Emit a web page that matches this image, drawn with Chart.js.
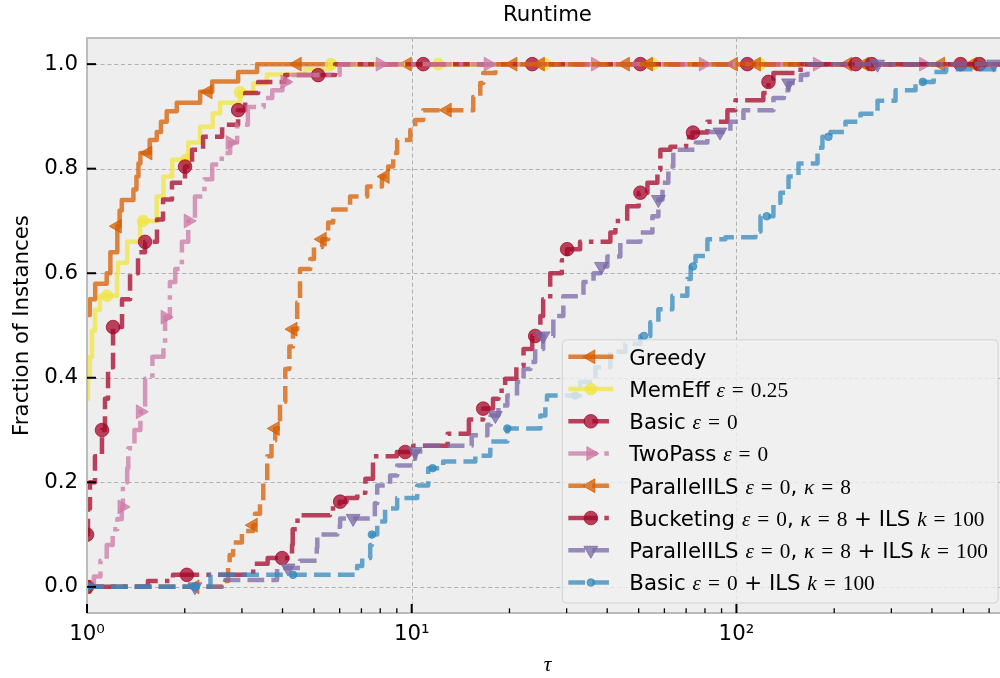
<!DOCTYPE html>
<html>
<head>
<meta charset="utf-8">
<script src="https://cdn.jsdelivr.net/npm/chart.js@4.4.1/dist/chart.umd.min.js"></script>
<style>
html,body{margin:0;padding:0;background:#ffffff;}
#wrap{width:1000px;height:678px;position:relative;}
</style>
</head>
<body>
<div id="wrap"><canvas id="c" width="1000" height="678"></canvas></div>
<script>
// ---------------- axis limits / ticks ----------------
const TAU_MIN = 1;
const TAU_MAX = 686;
const Y_MIN = -0.05;
const Y_MAX = 1.05;
const yTickValues = [0, 0.2, 0.4, 0.6, 0.8, 1.0];
const xMajorTicks = [1, 10, 100];

// ---------------- data (performance profiles) ----------------
const greedyTau  = [1.0, 1.02, 1.06, 1.15, 1.18, 1.24, 1.26, 1.28, 1.39, 1.42, 1.44, 1.46, 1.56, 1.64, 1.69, 1.76, 1.89, 2.23, 2.43, 2.92, 3.34, 686];
const greedyFrac = [0.52, 0.55, 0.58, 0.60, 0.64, 0.69, 0.72, 0.74, 0.76, 0.785, 0.81, 0.83, 0.855, 0.87, 0.89, 0.91, 0.926, 0.947, 0.967, 0.985, 1.0, 1.0];
const greedyMarks = [1.24, 1.54, 2.36, 4.44, 9.69, 20.5, 45.5, 97.9, 220, 425];

const memEffTau  = [1.0, 1.007, 1.02, 1.036, 1.058, 1.097, 1.237, 1.246, 1.33, 1.457, 1.64, 1.72, 1.83, 2.05, 2.23, 2.44, 2.57, 2.96, 3.25, 3.58, 4.7, 5.6, 686];
const memEffFrac = [0.36, 0.40, 0.44, 0.49, 0.53, 0.557, 0.60, 0.62, 0.66, 0.70, 0.747, 0.785, 0.817, 0.85, 0.88, 0.906, 0.926, 0.946, 0.963, 0.98, 0.99, 1.0, 1.0];
const memEffMarks = [1.152, 1.488, 2.02, 2.96, 5.65, 12.07, 25.8, 55.5, 118.6, 255, 545];

const basicTau  = [1.0, 1.007, 1.021, 1.058, 1.112, 1.136, 1.161, 1.203, 1.282, 1.357, 1.436, 1.509, 1.643, 1.715, 1.827, 2.004, 2.107, 2.278, 2.607, 2.92, 3.07, 3.365, 4.075, 5.81, 686];
const basicFrac = [0.10, 0.15, 0.20, 0.25, 0.30, 0.36, 0.42, 0.497, 0.55, 0.60, 0.64, 0.66, 0.703, 0.741, 0.773, 0.804, 0.836, 0.861, 0.884, 0.912, 0.945, 0.966, 0.979, 1.0, 1.0];
const basicMarks = [1.0, 1.112, 1.203, 1.509, 2.004, 2.92, 5.15, 10.85, 23.5, 50.6, 108, 233, 490];

const twoPassTau  = [1.0, 1.05, 1.10, 1.15, 1.2, 1.24, 1.28, 1.29, 1.33, 1.34, 1.40, 1.46, 1.51, 1.59, 1.72, 1.74, 1.80, 1.87, 1.96, 2.05, 2.15, 2.3, 2.43, 2.6, 2.76, 2.9, 3.13, 3.5, 3.72, 4.0, 4.28, 6.0, 686];
const twoPassFrac = [0.0, 0.02, 0.05, 0.08, 0.11, 0.13, 0.153, 0.20, 0.227, 0.265, 0.30, 0.335, 0.398, 0.44, 0.46, 0.516, 0.583, 0.608, 0.66, 0.70, 0.747, 0.78, 0.808, 0.83, 0.85, 0.884, 0.918, 0.935, 0.95, 0.966, 0.979, 1.0, 1.0];
const twoPassMarks = [1.0, 1.282, 1.46, 1.74, 2.05, 2.76, 4.07, 8.0, 17.2, 36.8, 79.1, 177.6, 377];

const parIlsTau  = [1.0, 2.66, 2.72, 2.75, 2.82, 3.0, 3.25, 3.29, 3.41, 3.49, 3.59, 3.70, 3.80, 3.93, 4.08, 4.2, 4.31, 4.44, 4.53, 4.87, 5.0, 5.3, 5.53, 5.73, 6.46, 7.29, 8.1, 8.46, 8.77, 9.02, 9.9, 10.25, 10.85, 15.47, 16.26, 16.61, 18.1, 686];
const parIlsFrac = [0.0, 0.011, 0.04, 0.061, 0.085, 0.107, 0.118, 0.14, 0.163, 0.20, 0.25, 0.28, 0.303, 0.354, 0.417, 0.46, 0.493, 0.544, 0.608, 0.627, 0.65, 0.665, 0.697, 0.722, 0.747, 0.766, 0.785, 0.804, 0.83, 0.855, 0.874, 0.893, 0.912, 0.937, 0.964, 0.983, 1.0, 1.0];
const parIlsMarks = [1.0, 2.15, 3.25, 3.80, 4.31, 5.30, 8.28, 12.86, 24.9, 53.6, 115.2, 248, 534];

const bucketTau  = [1.0, 1.54, 1.84, 3.25, 3.6, 4.28, 4.3, 4.45, 5.6, 6.0, 6.3, 6.8, 7.2, 7.6, 9.0, 10.1, 12.9, 15.0, 16.6, 17.8, 18.5, 19.4, 21.0, 22.1, 23.5, 24.9, 25.4, 26.7, 29.0, 30.1, 33.0, 40.9, 42.4, 46.1, 50.0, 53.2, 57.1, 58.3, 62.6, 70, 73.2, 81.4, 93.8, 99.3, 121, 125.5, 130, 157.6, 686];
const bucketFrac = [0.0, 0.011, 0.023, 0.044, 0.055, 0.08, 0.11, 0.137, 0.15, 0.163, 0.17, 0.18, 0.207, 0.25, 0.258, 0.27, 0.293, 0.32, 0.341, 0.36, 0.375, 0.398, 0.423, 0.455, 0.48, 0.518, 0.55, 0.60, 0.625, 0.646, 0.66, 0.678, 0.70, 0.728, 0.754, 0.773, 0.798, 0.836, 0.842, 0.86, 0.869, 0.89, 0.912, 0.931, 0.945, 0.966, 0.983, 1.0, 1.0];
const bucketMarks = [1.0, 2.03, 3.99, 6.02, 9.55, 16.6, 24.0, 30.1, 50.6, 73.5, 125.5, 261, 561];

const parIlsLsTau  = [1.0, 2.6, 3.85, 4.53, 5.1, 5.12, 5.9, 6.02, 7.7, 7.83, 8.58, 9.02, 9.9, 10.25, 11.0, 15.3, 17.1, 17.5, 18.5, 19.7, 21.1, 22.1, 23.2, 24.0, 25.4, 27.3, 29.3, 33.8, 36.3, 38.1, 40.05, 43.9, 50.6, 55.1, 57.5, 59.2, 61.7, 63.9, 75, 81.4, 95.8, 105.1, 130, 140, 144.7, 158, 165.5, 686];
const parIlsLsFrac = [0.0, 0.013, 0.036, 0.05, 0.075, 0.1, 0.115, 0.131, 0.16, 0.194, 0.213, 0.232, 0.245, 0.259, 0.27, 0.29, 0.31, 0.328, 0.347, 0.366, 0.392, 0.417, 0.43, 0.455, 0.48, 0.518, 0.556, 0.583, 0.60, 0.613, 0.632, 0.66, 0.678, 0.709, 0.741, 0.773, 0.804, 0.836, 0.85, 0.87, 0.89, 0.912, 0.935, 0.95, 0.964, 0.979, 1.0, 1.0];
const parIlsLsMarks = [1.0, 2.15, 4.16, 6.60, 10.25, 18.1, 25.4, 38.4, 57.5, 89, 144.7, 272, 620];

const basicLsTau  = [1.0, 2.4, 6.79, 7.04, 7.45, 7.54, 7.83, 8.28, 9.02, 10.4, 11.24, 12.5, 15.7, 17.46, 19.7, 24.9, 25.8, 26.1, 33.0, 36.8, 40.9, 45.5, 50.6, 54.3, 57.5, 63.5, 70.6, 72.3, 74.8, 81.4, 92.5, 114.4, 118.6, 130, 136.6, 144.7, 155.3, 177.7, 184, 195, 216.7, 241, 272, 309, 356, 405, 441, 686];
const basicLsFrac = [0.0, 0.023, 0.04, 0.055, 0.08, 0.10, 0.125, 0.15, 0.17, 0.194, 0.227, 0.24, 0.251, 0.278, 0.303, 0.328, 0.354, 0.366, 0.392, 0.42, 0.45, 0.465, 0.48, 0.506, 0.531, 0.557, 0.589, 0.613, 0.633, 0.665, 0.669, 0.68, 0.709, 0.735, 0.754, 0.785, 0.81, 0.84, 0.861, 0.87, 0.89, 0.905, 0.93, 0.95, 0.966, 0.985, 0.99, 0.99];
const basicLsMarks = [1.0, 2.15, 4.31, 7.54, 11.6, 19.7, 31.9, 51.9, 73.5, 124, 192, 375];

// ---------------- styles ----------------
const DASHES = {solid: [], dashed: [16.7, 7.2], dashdot: [28.8, 7.2, 4.5, 7.2]};
const LINE_W = 4.5;
const ALPHA = 0.75;
const SANS = "'DejaVu Sans', sans-serif";
const MATH = "'Liberation Serif', 'DejaVu Serif', serif";
const FS = 21.3;
const AXES_RIGHT = 1008;   // the axes box continues a little past the right edge of the picture

const SERIES = [
  {tau: greedyTau, frac: greedyFrac, marks: greedyMarks, color: '#D55E00', dash: 'solid', marker: 'left', r: 8,
   label: [['Greedy','s']]},
  {tau: memEffTau, frac: memEffFrac, marks: memEffMarks, color: '#F0E442', dash: 'solid', marker: 'circle', r: 5.8,
   label: [['MemEff ','s'],['ε','mi'],['=','eq'],['0.25','mr']]},
  {tau: basicTau, frac: basicFrac, marks: basicMarks, color: '#A60628', dash: 'dashed', marker: 'circle', r: 6.8,
   label: [['Basic ','s'],['ε','mi'],['=','eq'],['0','mr']]},
  {tau: twoPassTau, frac: twoPassFrac, marks: twoPassMarks, color: '#CC79A7', dash: 'dashdot', marker: 'right', r: 8,
   label: [['TwoPass ','s'],['ε','mi'],['=','eq'],['0','mr']]},
  {tau: parIlsTau, frac: parIlsFrac, marks: parIlsMarks, color: '#D55E00', dash: 'dashed', marker: 'left', r: 8,
   label: [['ParallelILS ','s'],['ε','mi'],['=','eq'],['0','mr'],[', ','s'],['κ','mi'],['=','eq'],['8','mr']]},
  {tau: bucketTau, frac: bucketFrac, marks: bucketMarks, color: '#A60628', dash: 'dashdot', marker: 'circle', r: 6.8,
   label: [['Bucketing ','s'],['ε','mi'],['=','eq'],['0','mr'],[', ','s'],['κ','mi'],['=','eq'],['8','mr'],[' + ILS ','s'],['k','mi'],['=','eq'],['100','mr']]},
  {tau: parIlsLsTau, frac: parIlsLsFrac, marks: parIlsLsMarks, color: '#7A68A6', dash: 'dashed', marker: 'down', r: 8,
   label: [['ParallelILS ','s'],['ε','mi'],['=','eq'],['0','mr'],[', ','s'],['κ','mi'],['=','eq'],['8','mr'],[' + ILS ','s'],['k','mi'],['=','eq'],['100','mr']]},
  {tau: basicLsTau, frac: basicLsFrac, marks: basicLsMarks, color: '#348ABD', dash: 'dashed', marker: 'circle', r: 3.8,
   label: [['Basic ','s'],['ε','mi'],['=','eq'],['0','mr'],[' + ILS ','s'],['k','mi'],['=','eq'],['100','mr']]}
];

const ROT = {left: 270, right: 90, down: 180, up: 0};

function rgba(hex, a) {
  const n = parseInt(hex.slice(1), 16);
  return 'rgba(' + ((n >> 16) & 255) + ',' + ((n >> 8) & 255) + ',' + (n & 255) + ',' + a + ')';
}
function stepAt(tau, frac, t) {
  let v = frac[0];
  for (let i = 0; i < tau.length; i++) if (tau[i] <= t * (1 + 1e-9)) v = frac[i];
  return v;
}

// ---------------- datasets ----------------
const datasets = [];
SERIES.forEach((s, i) => {
  const col = rgba(s.color, ALPHA);
  datasets.push({
    data: s.tau.map((t, k) => ({x: t, y: s.frac[k]})),
    borderColor: col, backgroundColor: col, borderWidth: LINE_W,
    borderDash: DASHES[s.dash], borderCapStyle: 'butt', borderJoinStyle: 'round',
    stepped: true, pointRadius: 0, pointHitRadius: 0, fill: false, clip: 0,
    order: 100 - 2 * i
  });
  datasets.push({
    data: s.marks.map(t => ({x: t, y: stepAt(s.tau, s.frac, t)})),
    showLine: false,
    pointStyle: s.marker === 'circle' ? 'circle' : 'triangle',
    pointRotation: s.marker === 'circle' ? 0 : ROT[s.marker],
    pointRadius: s.r, pointHoverRadius: s.r,
    pointBackgroundColor: col, pointBorderColor: col, pointBorderWidth: 1,
    clip: 0, order: 99 - 2 * i
  });
});

// ---------------- frame / grid / ticks plugin ----------------
const framePlugin = {
  id: 'mplFrame',
  afterLayout(chart) {
    const a = chart.chartArea;
    a.right = AXES_RIGHT;
    a.width = AXES_RIGHT - a.left;
    const x = chart.scales.x;
    x.right = AXES_RIGHT;
    x.width = AXES_RIGHT - x.left;
    x.configure();
    if (chart.titleBlock) {
      chart.titleBlock.left = a.left;
      chart.titleBlock.right = AXES_RIGHT;
      chart.titleBlock.width = AXES_RIGHT - a.left;
    }
  },
  beforeDraw(chart) {
    const {ctx, chartArea: a} = chart;
    ctx.save();
    ctx.fillStyle = '#ffffff';
    ctx.fillRect(0, 0, chart.width, chart.height);
    ctx.fillStyle = '#eeeeee';
    ctx.fillRect(a.left, a.top, a.right - a.left, a.bottom - a.top);
    ctx.restore();
  },
  beforeDatasetsDraw(chart) {
    const {ctx, chartArea: a, scales: {x, y}} = chart;
    ctx.save();
    ctx.strokeStyle = '#b2b2b2';
    ctx.lineWidth = 1;
    ctx.setLineDash([4, 2.8]);
    yTickValues.forEach(v => {
      const py = Math.round(y.getPixelForValue(v)) + 0.5;
      ctx.beginPath(); ctx.moveTo(a.left, py); ctx.lineTo(a.right, py); ctx.stroke();
    });
    xMajorTicks.forEach(v => {
      if (v <= TAU_MIN) return;
      const px = Math.round(x.getPixelForValue(v)) + 0.5;
      ctx.beginPath(); ctx.moveTo(px, a.top); ctx.lineTo(px, a.bottom); ctx.stroke();
    });
    ctx.restore();
  },
  afterDatasetsDraw(chart) {
    const {ctx, chartArea: a, scales: {x, y}} = chart;
    ctx.save();
    ctx.setLineDash([]);
    ctx.strokeStyle = '#bcbcbc';
    ctx.lineWidth = 2;
    ctx.beginPath();
    ctx.moveTo(a.left, a.bottom); ctx.lineTo(a.left, a.top); ctx.lineTo(a.right, a.top);
    ctx.moveTo(a.left, a.bottom); ctx.lineTo(a.right, a.bottom);
    ctx.moveTo(a.right, a.top); ctx.lineTo(a.right, a.bottom);
    ctx.stroke();
    ctx.strokeStyle = '#000000';
    yTickValues.forEach(v => {
      const py = y.getPixelForValue(v);
      ctx.lineWidth = 2;
      ctx.beginPath(); ctx.moveTo(a.left, py); ctx.lineTo(a.left + 9, py); ctx.stroke();
    });
    for (let e = 0; e < 4; e++) {
      for (let m = 1; m < 10; m++) {
        const v = m * Math.pow(10, e);
        if (v < TAU_MIN || v > TAU_MAX) continue;
        const px = x.getPixelForValue(v);
        const major = m === 1;
        ctx.lineWidth = major ? 2 : 1.3;
        ctx.beginPath(); ctx.moveTo(px, a.bottom); ctx.lineTo(px, a.bottom - (major ? 9 : 4.7)); ctx.stroke();
      }
    }
    ctx.restore();
  }
};

// ---------------- legend plugin (matplotlib style) ----------------
function segFont(kind) {
  if (kind === 's') return FS + 'px ' + SANS;
  if (kind === 'mi') return 'italic ' + FS + 'px ' + MATH;
  return FS + 'px ' + MATH;
}
function segWidth(ctx, seg) {
  if (seg[1] === 'eq') return FS * 1.22;
  ctx.font = segFont(seg[1]);
  return ctx.measureText(seg[0]).width;
}
function drawMarker(ctx, kind, x, y, r, col) {
  ctx.beginPath();
  if (kind === 'circle') {
    ctx.arc(x, y, r, 0, Math.PI * 2);
  } else {
    let rad = ROT[kind] * Math.PI / 180;
    ctx.moveTo(x + Math.sin(rad) * r, y - Math.cos(rad) * r);
    rad += 2 * Math.PI / 3;
    ctx.lineTo(x + Math.sin(rad) * r, y - Math.cos(rad) * r);
    rad += 2 * Math.PI / 3;
    ctx.lineTo(x + Math.sin(rad) * r, y - Math.cos(rad) * r);
    ctx.closePath();
  }
  ctx.fillStyle = col; ctx.strokeStyle = col; ctx.lineWidth = 1;
  ctx.fill(); ctx.stroke();
}
const legendPlugin = {
  id: 'mplLegend',
  afterDraw(chart) {
    const {ctx, chartArea: a} = chart;
    const rowH = 32.24, padTop = 17, padBottom = 20.5;
    const handleL = 6, handleLen = 45, textOff = 67, padRight = 10;
    ctx.save();
    let maxW = 0;
    SERIES.forEach(s => {
      let w = 0; s.label.forEach(seg => w += segWidth(ctx, seg));
      maxW = Math.max(maxW, w);
    });
    const boxW = textOff + maxW + padRight;
    const boxH = padTop + rowH * (SERIES.length - 1) + padBottom;
    const right = a.right - 10, bottom = a.bottom - 10;
    const left = right - boxW, top = bottom - boxH;
    const rr = 4;
    ctx.beginPath();
    ctx.moveTo(left + rr, top);
    ctx.arcTo(right, top, right, bottom, rr);
    ctx.arcTo(right, bottom, left, bottom, rr);
    ctx.arcTo(left, bottom, left, top, rr);
    ctx.arcTo(left, top, right, top, rr);
    ctx.closePath();
    ctx.fillStyle = 'rgba(240,240,240,0.8)';
    ctx.fill();
    ctx.strokeStyle = 'rgba(204,204,204,0.8)';
    ctx.lineWidth = 1;
    ctx.stroke();
    SERIES.forEach((s, i) => {
      const cy = top + padTop + rowH * i;
      const col = rgba(s.color, ALPHA);
      ctx.save();
      ctx.strokeStyle = col; ctx.lineWidth = LINE_W; ctx.lineCap = 'butt';
      ctx.setLineDash(DASHES[s.dash]);
      ctx.beginPath(); ctx.moveTo(left + handleL, cy); ctx.lineTo(left + handleL + handleLen, cy); ctx.stroke();
      ctx.setLineDash([]);
      drawMarker(ctx, s.marker, left + handleL + handleLen / 2, cy, s.r, col);
      ctx.restore();
      let tx = left + textOff;
      const base = cy + 7.8;
      ctx.fillStyle = '#000000';
      ctx.textBaseline = 'alphabetic';
      s.label.forEach(seg => {
        const w = segWidth(ctx, seg);
        if (seg[1] === 'eq') {
          ctx.font = segFont('mr');
          ctx.textAlign = 'center';
          ctx.fillText('=', tx + w / 2, base);
        } else {
          ctx.font = segFont(seg[1]);
          ctx.textAlign = 'left';
          ctx.fillText(seg[0], tx, base);
        }
        tx += w;
      });
    });
    ctx.restore();
  }
};

// ---------------- chart ----------------
const SUP = ['⁰','¹','²','³'];
Chart.defaults.font.family = SANS;
Chart.defaults.color = '#000000';

new Chart(document.getElementById('c').getContext('2d'), {
  type: 'line',
  data: {datasets: datasets},
  options: {
    responsive: false,
    animation: false,
    devicePixelRatio: 1,
    events: [],
    layout: {padding: 0},
    plugins: {
      legend: {display: false},
      tooltip: {enabled: false},
      title: {
        display: true, text: 'Runtime', fullSize: false, color: '#000000',
        font: {family: SANS, size: FS, weight: 'normal', lineHeight: 1.2},
        padding: {top: 3, bottom: 9.44}
      }
    },
    scales: {
      x: {
        type: 'logarithmic', min: TAU_MIN, max: TAU_MAX,
        grid: {display: false, drawTicks: false},
        border: {display: false},
        ticks: {
          autoSkip: false, maxRotation: 0, minRotation: 0, padding: 8.5, color: '#000000',
          font: {family: SANS, size: FS},
          callback: function (v) {
            const l = Math.log10(v);
            const r = Math.round(l);
            if (Math.abs(l - r) < 1e-9 && r >= 0 && r < SUP.length) return '10' + SUP[r];
            return '';
          }
        },
        title: {display: true, text: 'τ', color: '#000000',
          font: {family: MATH, style: 'italic', size: FS, lineHeight: 1.2},
          padding: {top: 0, bottom: 0}},
        afterFit: function (s) { s.height = 65; s.paddingLeft = 0; s.paddingRight = 0; }
      },
      y: {
        type: 'linear', min: Y_MIN, max: Y_MAX,
        grid: {display: false, drawTicks: false},
        border: {display: false},
        ticks: {
          stepSize: 0.2, includeBounds: false, padding: 9, color: '#000000',
          font: {family: SANS, size: FS},
          callback: function (v) { return (Math.round(v * 10) / 10).toFixed(1); }
        },
        title: {display: true, text: 'Fraction of Instances', color: '#000000',
          font: {family: SANS, size: FS, lineHeight: 1.2},
          padding: {top: 9.5, bottom: 0}},
        afterFit: function (s) { s.width = 87; s.paddingTop = 0; s.paddingBottom = 0; }
      }
    }
  },
  plugins: [framePlugin, legendPlugin]
});
</script>
</body>
</html>
